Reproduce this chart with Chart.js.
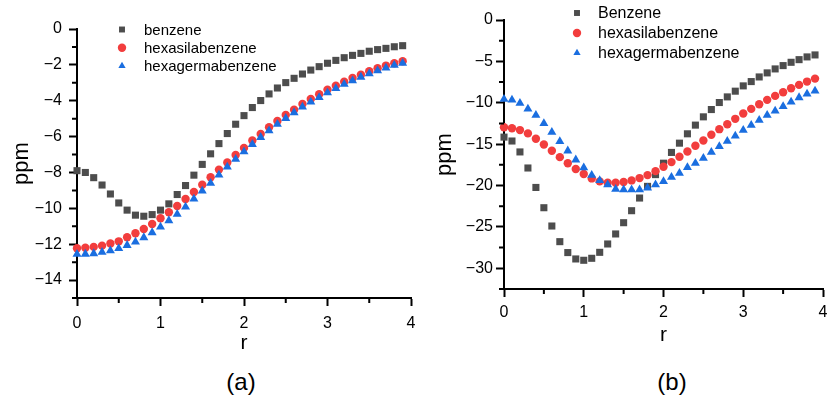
<!DOCTYPE html>
<html>
<head>
<meta charset="utf-8">
<script src="https://cdn.jsdelivr.net/npm/chart.js@4.4.1/dist/chart.umd.min.js"></script>
<style>
  html, body { margin: 0; padding: 0; background: #fff; overflow: hidden; }
  body { width: 827px; height: 398px; position: relative; font-family: "Liberation Sans", Arial, sans-serif; }
  .box { position: absolute; top: 0; height: 360px; }
  #boxA { left: 0; width: 420px; }
  #boxB { left: 420px; width: 410px; }
  .cap { position: absolute; top: 368px; font-size: 24px; transform: translateX(-50%); color: #000; }
</style>
</head>
<body>
<div class="box" id="boxA"><canvas id="chartA"></canvas></div>
<div class="box" id="boxB"><canvas id="chartB"></canvas></div>
<div class="cap" style="left:241px">(a)</div>
<div class="cap" style="left:672px">(b)</div>
<script>
const rValues = [0, 0.1, 0.2, 0.3, 0.4, 0.5, 0.6, 0.7, 0.8, 0.9,
                 1, 1.1, 1.2, 1.3, 1.4, 1.5, 1.6, 1.7, 1.8, 1.9,
                 2, 2.1, 2.2, 2.3, 2.4, 2.5, 2.6, 2.7, 2.8, 2.9,
                 3, 3.1, 3.2, 3.3, 3.4, 3.5, 3.6, 3.7, 3.8, 3.9];

// panel (a)
const seriesNamesA = ["benzene", "hexasilabenzene", "hexagermabenzene"];
const benzeneA = [-7.9, -8.0, -8.29, -8.7, -9.2, -9.7, -10.1, -10.38, -10.44, -10.35,
                  -10.1, -9.75, -9.23, -8.73, -8.15, -7.55, -6.96, -6.39, -5.83, -5.31,
                  -4.83, -4.38, -3.99, -3.62, -3.29, -2.99, -2.75, -2.51, -2.29, -2.1,
                  -1.91, -1.75, -1.6, -1.47, -1.36, -1.24, -1.15, -1.08, -0.99, -0.93];
const hexasilaA = [-12.23, -12.2, -12.15, -12.08, -11.96, -11.84, -11.61, -11.39, -11.15, -10.87,
                   -10.55, -10.22, -9.87, -9.48, -9.09, -8.68, -8.27, -7.84, -7.44, -7.03,
                   -6.63, -6.22, -5.85, -5.48, -5.13, -4.79, -4.5, -4.18, -3.9, -3.64,
                   -3.38, -3.16, -2.94, -2.73, -2.55, -2.36, -2.19, -2.04, -1.91, -1.8];
const hexagermaA = [-12.56, -12.55, -12.52, -12.45, -12.36, -12.24, -12.06, -11.87, -11.63, -11.35,
                    -11.04, -10.68, -10.33, -9.92, -9.48, -9.03, -8.6, -8.14, -7.69, -7.26,
                    -6.84, -6.43, -6.04, -5.67, -5.31, -4.98, -4.66, -4.35, -4.07, -3.81,
                    -3.55, -3.31, -3.08, -2.88, -2.68, -2.49, -2.32, -2.17, -2.02, -1.91];
const xTicksA = [0, 1, 2, 3, 4];
const xMinorA = [0.5, 1.5, 2.5, 3.5];
const yTicksA = [-14, -12, -10, -8, -6, -4, -2, 0];
const yMinorA = [-15, -13, -11, -9, -7, -5, -3, -1];

// panel (b)
const seriesNamesB = ["Benzene", "hexasilabenzene", "hexagermabenzene"];
const benzeneB = [-14.15, -14.62, -15.94, -17.88, -20.23, -22.68, -24.89, -26.78, -28.1, -28.87,
                  -29.03, -28.79, -28.07, -27.06, -25.85, -24.49, -23.04, -21.51, -20.1, -18.68,
                  -17.3, -16.0, -14.88, -13.75, -12.7, -11.7, -10.82, -9.97, -9.29, -8.6,
                  -7.96, -7.44, -6.88, -6.39, -5.91, -5.51, -5.11, -4.79, -4.46, -4.22];
const hexasilaB = [-12.95, -13.07, -13.3, -13.7, -14.35, -15.04, -15.8, -16.57, -17.3, -18.0,
                   -18.6, -19.14, -19.5, -19.66, -19.66, -19.58, -19.38, -19.1, -18.74, -18.26,
                   -17.73, -17.17, -16.53, -15.88, -15.2, -14.56, -13.87, -13.19, -12.59, -11.94,
                   -11.3, -10.74, -10.17, -9.65, -9.17, -8.73, -8.24, -7.84, -7.44, -7.08];
const hexagermaB = [-9.57, -9.65, -10.05, -10.74, -11.5, -12.5, -13.55, -14.68, -15.8, -16.89,
                    -17.85, -18.74, -19.38, -19.9, -20.43, -20.5, -20.5, -20.5, -20.3, -19.9,
                    -19.5, -19.0, -18.5, -17.8, -17.3, -16.7, -15.96, -15.28, -14.64, -14.0,
                    -13.3, -12.7, -12.1, -11.5, -10.98, -10.45, -9.9, -9.37, -8.93, -8.56];
const xTicksB = [0, 1, 2, 3, 4];
const xMinorB = [0.5, 1.5, 2.5, 3.5];
const yTicksB = [-30, -25, -20, -15, -10, -5, 0];
const yMinorB = [-32.5, -27.5, -22.5, -17.5, -12.5, -7.5, -2.5];

const FONT = '"Liberation Sans", Arial, sans-serif';
const GRAY = '#4d4d4d', RED = '#f23d3d', BLUE = '#1a6ee0';

const fmt = v => String(v).replace('-', '\u2212');
const pts = ys => ys.map((y, i) => ({x: rValues[i], y: y}));

// legend drawn inside the plot, top left
const cornerLegend = {
  id: 'cornerLegend',
  afterDraw(chart, args, o) {
    const ctx = chart.ctx;
    ctx.save();
    ctx.font = o.size + 'px ' + FONT;
    ctx.textBaseline = 'middle';
    chart.data.datasets.forEach((ds, i) => {
      const y = o.y + i * o.gap;
      ctx.fillStyle = ds.backgroundColor;
      Chart.helpers.drawPoint(ctx, {pointStyle: ds.pointStyle, radius: o.radius, rotation: 0, borderWidth: 0}, o.markerX, y);
      ctx.fillStyle = '#000';
      ctx.fillText(ds.label, o.textX, y + 1);
    });
    ctx.restore();
  }
};

// short minor tick marks outside the axes
const minorTicks = {
  id: 'minorTicks',
  afterDraw(chart, args, o) {
    const {ctx, scales: {x, y}} = chart;
    ctx.save();
    ctx.strokeStyle = '#000';
    ctx.lineWidth = 2;
    ctx.beginPath();
    o.x.forEach(v => {
      const px = x.getPixelForValue(v);
      ctx.moveTo(px, x.top);
      ctx.lineTo(px, x.top + o.len);
    });
    o.y.forEach(v => {
      const py = y.getPixelForValue(v);
      ctx.moveTo(y.right, py);
      ctx.lineTo(y.right - o.len, py);
    });
    ctx.stroke();
    ctx.restore();
  }
};

function makeChart(canvasId, p) {
  const datasets = [
    {label: p.names[0], data: pts(p.series[0]), pointStyle: 'rect', pointRadius: 5, backgroundColor: GRAY, order: 2},
    {label: p.names[1], data: pts(p.series[1]), pointStyle: 'circle', pointRadius: 4.2, backgroundColor: RED, order: 1},
    {label: p.names[2], data: pts(p.series[2]), pointStyle: 'triangle', pointRadius: 5.2, backgroundColor: BLUE, order: 0}
  ];
  datasets.forEach(d => { d.borderWidth = 0; d.pointBorderWidth = 0; d.clip = false; d.showLine = false; });

  return new Chart(document.getElementById(canvasId), {
    type: 'scatter',
    data: {datasets: datasets},
    plugins: [cornerLegend, minorTicks],
    options: {
      responsive: true,
      maintainAspectRatio: false,
      animation: false,
      layout: {padding: {left: 0, top: p.top, right: p.right, bottom: 0}},
      plugins: {
        legend: {display: false},
        tooltip: {enabled: false},
        cornerLegend: p.legend,
        minorTicks: {x: p.xMinor, y: p.yMinor, len: 5}
      },
      scales: {
        x: {
          type: 'linear', min: 0, max: 4,
          afterBuildTicks: s => { s.ticks = p.xTicks.map(v => ({value: v})); },
          afterFit: s => { s.height = p.xHeight; s.paddingLeft = 0; s.paddingRight = 0; },
          ticks: {color: '#000', font: {family: FONT, size: 16}, padding: p.xPad, maxRotation: 0, autoSkip: false, callback: v => fmt(v)},
          grid: {drawOnChartArea: false, drawTicks: true, tickLength: 8, tickColor: '#000', tickWidth: 2},
          border: {display: true, color: '#000', width: 2},
          title: {display: true, text: 'r', color: '#000', font: {family: FONT, size: 21}, padding: {top: 0, bottom: p.xTitlePad}}
        },
        y: {
          type: 'linear', min: p.yMin, max: 0,
          afterBuildTicks: s => { s.ticks = p.yTicks.map(v => ({value: v})); },
          afterFit: s => { s.width = p.yWidth; s.paddingTop = 0; s.paddingBottom = 0; },
          ticks: {color: '#000', font: {family: FONT, size: 16}, padding: p.yPad, autoSkip: false, callback: v => fmt(v)},
          grid: {drawOnChartArea: false, drawTicks: true, tickLength: 8, tickColor: '#000', tickWidth: 2},
          border: {display: true, color: '#000', width: 2},
          title: {display: true, text: 'ppm', color: '#000', font: {family: FONT, size: 22}, padding: {top: p.yTitlePad, bottom: 0}}
        }
      }
    }
  });
}

makeChart('chartA', {
  names: seriesNamesA, series: [benzeneA, hexasilaA, hexagermaA],
  xTicks: xTicksA, xMinor: xMinorA, yTicks: yTicksA, yMinor: yMinorA, yMin: -15,
  top: 29, right: 9, yWidth: 77, xHeight: 62, xPad: 8, yPad: 7, yTitlePad: 9, xTitlePad: 4,
  legend: {size: 15, y: 29.5, gap: 18.2, radius: 4.2, markerX: 122, textX: 144}
});

makeChart('chartB', {
  names: seriesNamesB, series: [benzeneB, hexasilaB, hexagermaB],
  xTicks: xTicksB, xMinor: xMinorB, yTicks: yTicksB, yMinor: yMinorB, yMin: -32.5,
  top: 20, right: 7, yWidth: 84, xHeight: 71, xPad: 6, yPad: 3, yTitlePad: 12, xTitlePad: 12,
  legend: {size: 16, y: 13, gap: 20, radius: 4.2, markerX: 157, textX: 178}
});
</script>
</body>
</html>
